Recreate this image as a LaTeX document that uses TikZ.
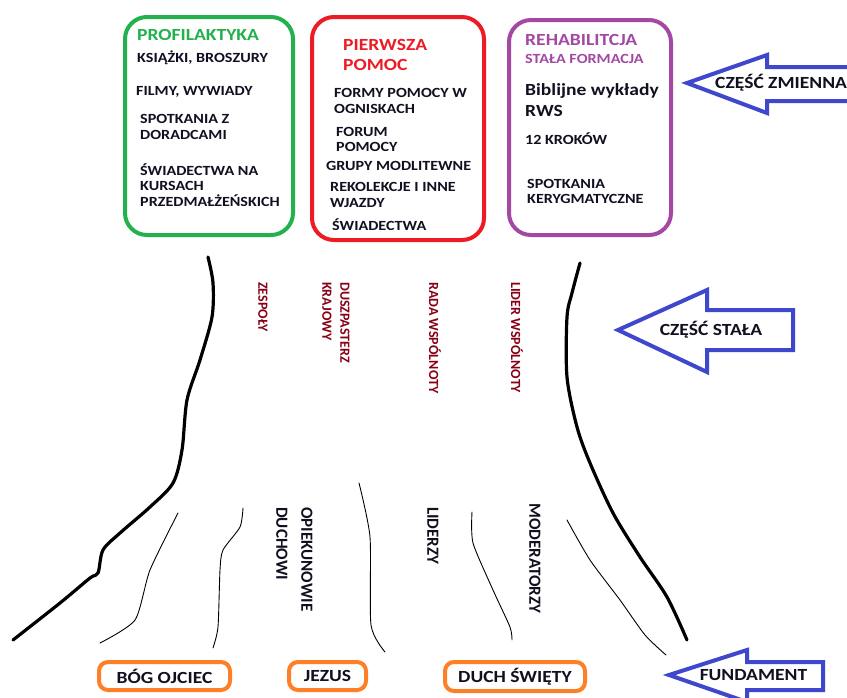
\documentclass[tikz,border=0pt]{standalone}
\usepackage{fontspec}
\setmainfont{Carlito}
\newfontfamily\widefont{Carlito}[FakeStretch=1.15]
\definecolor{pgreen}{HTML}{22B14C}
\definecolor{pred}{HTML}{ED1C24}
\definecolor{ppurple}{HTML}{A349A4}
\definecolor{pblue}{HTML}{3F48CC}
\definecolor{porange}{HTML}{FF7F27}
\definecolor{pdarkred}{HTML}{880015}
\definecolor{ptext}{HTML}{101020}
\tikzset{
  frame/.style={rounded corners=22pt, line width=4pt, inner sep=0pt},
  obox/.style={draw=porange, rounded corners=9pt, line width=4pt, inner sep=0pt, minimum height=28pt, text=ptext, font=\widefont\bfseries\fontsize{17}{20}\selectfont},
  btxt/.style={anchor=base west, inner sep=0pt, text=ptext, font=\widefont\bfseries\fontsize{14}{16}\selectfont},
  ttl/.style={anchor=base west, inner sep=0pt, font=\widefont\bfseries\fontsize{17}{20}\selectfont},
  vtop/.style={rotate=-90, anchor=west, inner sep=0pt, align=left, text=pdarkred, font=\bfseries\fontsize{14}{18}\selectfont},
  vlow/.style={rotate=-90, anchor=west, inner sep=0pt, align=left, text=ptext, font=\bfseries\fontsize{17}{25}\selectfont},
  bigarrow/.style={draw=pblue, line width=4pt, line join=miter},
  arrtxt/.style={inner sep=0pt, text=ptext, font=\widefont\bfseries\fontsize{17}{20}\selectfont},
  trunk/.style={line width=3.2pt, line cap=round, line join=round},
  root/.style={line width=0.9pt, line cap=round, line join=round}
}
\begin{document}
\begin{tikzpicture}[x=1pt,y=-1pt]
\useasboundingbox (0,0) rectangle (847,697);
\clip (0,0) rectangle (847,697);
\fill[white] (0,0) rectangle (847,697);

% ---- top boxes ----
\node[frame, draw=pgreen, minimum width=168pt, minimum height=218pt] (prof) at (209,126) {};
\node[frame, draw=pred, minimum width=172pt, minimum height=223pt] (pomoc) at (398,128.5) {};
\node[frame, draw=ppurple, minimum width=162pt, minimum height=215pt] (rehab) at (590,127.5) {};

% green box texts
\node[ttl, text=pgreen] (g0) at (137,40.7) {PROFILAKTYKA};
\node[btxt] (g1) at (137,62.3) {KSIĄŻKI, BROSZURY};
\node[btxt] (g2) at (136,95) {FILMY, WYWIADY};
\node[btxt] (g3) at (140,123) {SPOTKANIA Z};
\node[btxt] (g4) at (140,139.3) {DORADCAMI};
\node[btxt] (g5) at (140,175) {ŚWIADECTWA NA};
\node[btxt] (g6) at (140,190.7) {KURSACH};
\node[btxt] (g7) at (140,206.7) {PRZEDMAŁŻEŃSKICH};

% red box texts
\node[ttl, text=pred] (r0) at (343,50) {PIERWSZA};
\node[ttl, text=pred] (r0b) at (343,70) {POMOC};
\node[btxt] (r1) at (334,97.5) {FORMY POMOCY W};
\node[btxt] (r2) at (334,113) {OGNISKACH};
\node[btxt] (r3) at (336,136) {FORUM};
\node[btxt] (r4) at (336,151.7) {POMOCY};
\node[btxt] (r5) at (326,170.7) {GRUPY MODLITEWNE};
\node[btxt] (r6) at (330,191.7) {REKOLEKCJE I INNE};
\node[btxt] (r7) at (330,207) {WJAZDY};
\node[btxt] (r8) at (332,230) {ŚWIADECTWA};

% purple box texts
\node[ttl, text=ppurple] (p0) at (525,45) {REHABILITCJA};
\node[ttl, text=ppurple, font=\widefont\bfseries\fontsize{14}{16}\selectfont] (p0b) at (525,63.3) {STAŁA FORMACJA};
\node[btxt, font=\widefont\bfseries\fontsize{17}{20}\selectfont] (p1) at (525,95) {Biblijne wykłady};
\node[btxt, font=\widefont\bfseries\fontsize{17}{20}\selectfont] (p2) at (525,116) {RWS};
\node[btxt] (p3) at (525,144) {12 KROKÓW};
\node[btxt] (p4) at (527,188.3) {SPOTKANIA};
\node[btxt] (p5) at (527,203) {KERYGMATYCZNE};

% ---- arrows ----
\draw[bigarrow] (687,83) -- (767,55) -- (767,67) -- (870,67) -- (870,101) -- (767,101) -- (767,113) -- cycle;
\node[arrtxt, anchor=west] (zmienna) at (715,83) {CZĘŚĆ ZMIENNA};
\draw[bigarrow] (618,330) -- (707,290) -- (707,310) -- (793,310) -- (793,350) -- (707,350) -- (707,372) -- cycle;
\node[arrtxt] (stala) at (711,330) {CZĘŚĆ STAŁA};
\draw[bigarrow] (669,675) -- (747,650) -- (747,662) -- (823,662) -- (823,690) -- (747,690) -- (747,702) -- cycle;
\node[arrtxt] (fundament) at (753.5,675) {FUNDAMENT};

% ---- trunk lines ----
\draw[trunk] plot[smooth, tension=0.5] coordinates {(208,257) (213,283) (212,317) (200,360) (187,400) (182,450) (173,483) (150,507) (120,533) (103,550) (98,573) (90,578) (60,603) (13,640)};
\draw[trunk] plot[smooth, tension=0.5] coordinates {(580,263) (572,293) (567,317) (567,377) (577,427) (590,463) (613,513) (640,557) (667,597) (687,640)};
% roots
\draw[root] plot[smooth, tension=0.4] coordinates {(178,513) (150,570) (135,620) (100,643)};
\draw[root] plot[smooth, tension=0.4] coordinates {(243,508) (240,527) (223,550) (220,570) (218,627) (213,648)};
\draw[root] plot[smooth, tension=0.4] coordinates {(359,483) (370,537) (371,625) (385,652)};
\draw[root] plot[smooth, tension=0.4] coordinates {(472,512) (473,543) (493,590) (510,627) (512,640)};
\draw[root] plot[smooth, tension=0.4] coordinates {(567,520) (590,560) (620,600) (645,635) (666,655)};

% ---- vertical labels ----
\node[vtop] (zespoly) at (263,282) {ZESPOŁY};
\node[vtop] (duszp) at (336,282) {DUSZPASTERZ\\KRAJOWY};
\node[vtop] (rada) at (435,282) {RADA WSPÓLNOTY};
\node[vtop] (lider) at (517,282) {LIDER WSPÓLNOTY};
\node[vlow] (opiek) at (294.5,507) {OPIEKUNOWIE\\DUCHOWI};
\node[vlow] (liderzy) at (433,507) {LIDERZY};
\node[vlow] (moder) at (535,503) {MODERATORZY};

% ---- foundation boxes ----
\node[obox, minimum width=131pt] (ojciec) at (164.5,676) {BÓG OJCIEC};
\node[obox, minimum width=77pt] (jezus) at (327.5,676) {JEZUS};
\node[obox, minimum width=140pt, minimum height=29pt] (duch) at (515,676.5) {DUCH ŚWIĘTY};
\end{tikzpicture}
\end{document}
